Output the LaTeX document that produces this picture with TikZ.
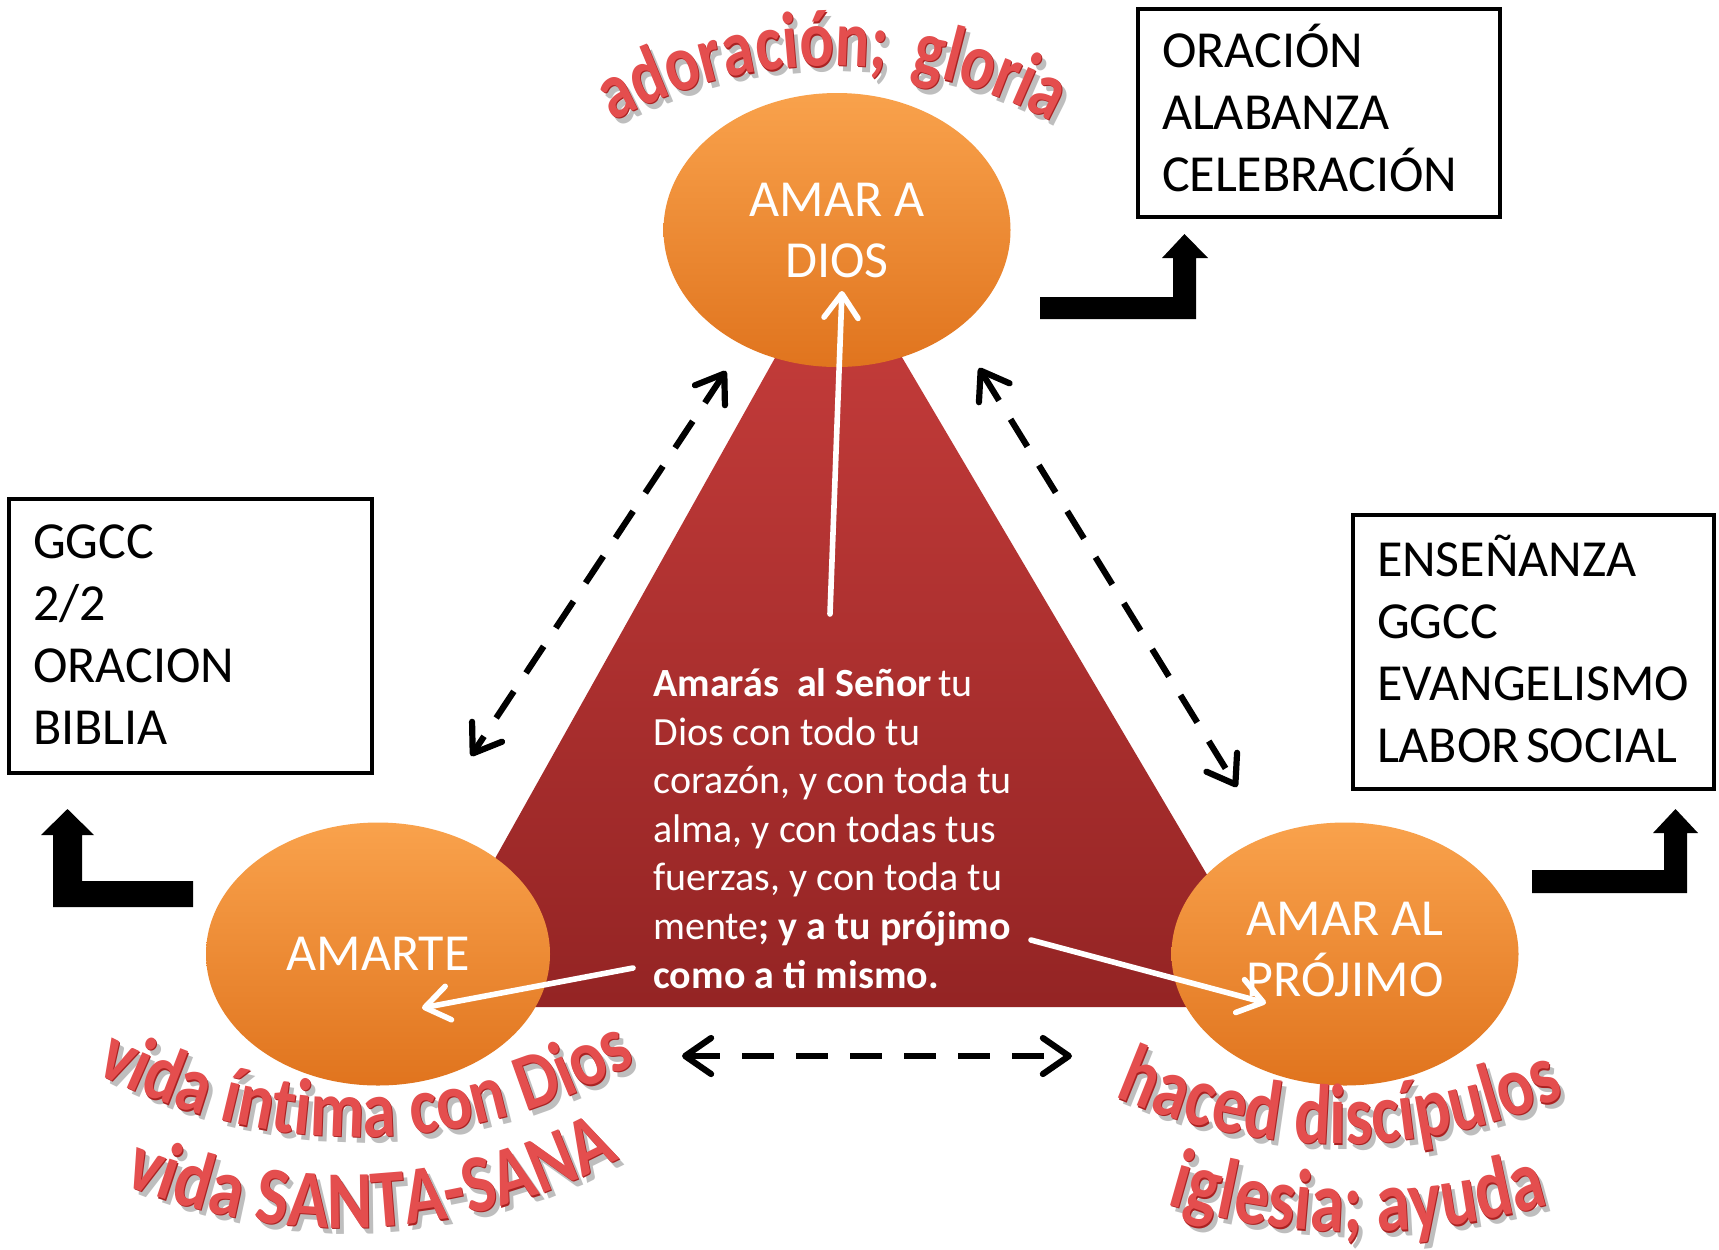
\documentclass[tikz,border=0pt]{standalone}
\usepackage{fontspec}
\setmainfont{Carlito}
\newfontfamily\wafontB{Carlito}[FakeStretch=0.8]
\newfontfamily\wafontC{Carlito}[FakeStretch=0.84]
\usetikzlibrary{shapes.geometric,arrows.meta,decorations.text,calc}
\definecolor{orA}{RGB}{249,162,76}
\definecolor{orB}{RGB}{245,142,50}
\definecolor{orC}{RGB}{224,116,30}
\definecolor{trA}{RGB}{200,62,60}
\definecolor{trB}{RGB}{148,36,36}
\definecolor{waRed}{RGB}{228,78,78}
\definecolor{waDark}{RGB}{170,34,34}
\definecolor{waShadow}{RGB}{190,190,190}
\tikzset{
  oval/.style={ellipse, inner sep=0pt, minimum width=173.5pt, top color=orA,
    middle color=orB, bottom color=orC, draw=none, text=white, align=center,
    font=\fontsize{26}{30.5}\selectfont},
  boxframe/.style={draw=black, line width=2pt, fill=white, inner sep=0pt},
  boxtext/.style={align=left, inner xsep=12pt, inner ysep=0pt,
    font=\fontsize{26}{31}\selectfont},
  dasharrow/.style={black, line width=3.1pt, dash pattern=on 16pt off 11pt,
    {Straight Barb[length=13pt,width=18pt,round]}-{Straight Barb[length=13pt,width=18pt,round]}},
  whitearrow/.style={white, line width=2.8pt, line cap=round,
    -{Straight Barb[length=12pt,width=17pt,round]}},
  bentarrow/.style={fill=black},
  arctext/.style={decorate, decoration={text along path, text align=center,
    text color=#1}},
}
\newcommand{\arcword}[6]{% center, radius, start, end, format, text
  \path[arctext=waShadow, decoration={text={|#5|#6}}] ($#1+(5,6)$) ++(#3:#2) arc[start angle=#3, end angle=#4, radius=#2];
  \path[arctext=waDark, decoration={text={|#5|#6}}] ($#1+(1,1.3)$) ++(#3:#2) arc[start angle=#3, end angle=#4, radius=#2];
  \path[arctext=waRed, decoration={text={|#5|#6}}] #1 ++(#3:#2) arc[start angle=#3, end angle=#4, radius=#2];
}
\begin{document}
\begin{tikzpicture}[x=0.5pt,y=-0.5pt]
\fill[white] (0,0) rectangle (1719,1249);
\useasboundingbox (0,0) rectangle (1719,1249);

% central triangle
\coordinate (tA) at (837,247);
\coordinate (tB) at (1285,1007);
\coordinate (tC) at (412,1007);
\shade[top color=trA, bottom color=trB] (tA) -- (tB) -- (tC) -- cycle;

% ellipses
\node[oval, minimum height=137pt] (dios) at (837,230) {AMAR A\\DIOS};
\node[oval, minimum height=131.5pt, minimum width=172pt] (yo) at (378,954) {AMARTE};
\node[oval, minimum height=131.5pt] (projimo) at (1345,954) {};
\node[text=white, align=center, font=\fontsize{26}{30.5}\selectfont] (projimoText) at (1345,949) {AMAR AL\\PRÓJIMO};

% boxes
\node[boxframe, minimum width=181pt, minimum height=104pt] (boxtop) at (1319,113) {};
\node[boxtext, text width=157pt] (boxtopText) at (1319,107.5) {ORACIÓN\\ALABANZA\\CELEBRACIÓN};
\node[boxframe, minimum width=181.5pt, minimum height=137pt] (boxleft) at (190.5,636) {};
\node[boxtext, text width=157.5pt] (boxleftText) at (190.5,635) {GGCC\\2/2\\ORACION\\BIBLIA};
\node[boxframe, minimum width=180.5pt, minimum height=137pt] (boxright) at (1533.5,652) {};
\node[boxtext, text width=156.5pt] (boxrightText) at (1533.5,649) {ENSEÑANZA\\GGCC\\EVANGELISMO\\LABOR\hspace{0.12em}SOCIAL};

% bent arrows
\fill[bentarrow] (1040,297) -- (1173,297) -- (1173,258) -- (1162,258) -- (1184.5,234)
  -- (1208,258) -- (1196,258) -- (1196,319) -- (1040,319) -- cycle;
\fill[bentarrow] (193,881) -- (82,881) -- (82,835) -- (94,835) -- (67.5,809)
  -- (41,835) -- (53,835) -- (53,907) -- (193,907) -- cycle;
\fill[bentarrow] (1532,870) -- (1664,870) -- (1664,833) -- (1653,833) -- (1675.5,809)
  -- (1698,833) -- (1687,833) -- (1687,893) -- (1532,893) -- cycle;

% dashed double arrows
\coordinate (dL1) at (726,371); \coordinate (dL2) at (471,756);
\coordinate (dR1) at (979,368); \coordinate (dR2) at (1237,787);
\coordinate (dB1) at (682,1056); \coordinate (dB2) at (1072,1056);
\draw[dasharrow] (dL1) -- (dL2);
\draw[dasharrow] (dR1) -- (dR2);
\draw[dasharrow] (dB1) -- (dB2);

% verse
\node[anchor=north west, align=left, text=white, inner sep=0pt,
  font=\fontsize{20}{24.3}\selectfont] (verse) at (653,668)
  {\textbf{Amarás~ al Señor}\,tu\\Dios con todo tu\\corazón, y con toda tu\\alma, y con todas tus\\fuerzas, y con toda tu\\mente\textbf{; y a tu prójimo}\\\textbf{como a ti mismo.}};

% white arrows
\coordinate (wU0) at (830,614); \coordinate (wU1) at (842,291);
\coordinate (wL0) at (633,968); \coordinate (wL1) at (422,1008);
\coordinate (wR0) at (1031,940); \coordinate (wR1) at (1266,1003);
\draw[whitearrow] (wU0) -- (wU1);
\draw[whitearrow] (wL0) -- (wL1);
\draw[whitearrow] (wR0) -- (wR1);

% arched word art
\arcword{(832,526)}{460}{-135}{-45}{\wafontB\bfseries\fontsize{40}{40}\selectfont}{adoración;{\kern0.3em}gloria}
\arcword{(357,576)}{561}{124}{54}{\wafontC\bfseries\fontsize{40}{40}\selectfont}{vida íntima con Dios}
\arcword{(344,648)}{580}{122}{52}{\wafontC\bfseries\fontsize{41}{41}\selectfont}{vida SANTA-SANA}
\arcword{(1340,587)}{557}{125}{55}{\wafontB\bfseries\fontsize{42.5}{42.5}\selectfont}{haced discípulos}
\arcword{(1358,562)}{670}{115}{65}{\wafontB\bfseries\fontsize{43}{43}\selectfont}{iglesia; ayuda}
\end{tikzpicture}
\end{document}
